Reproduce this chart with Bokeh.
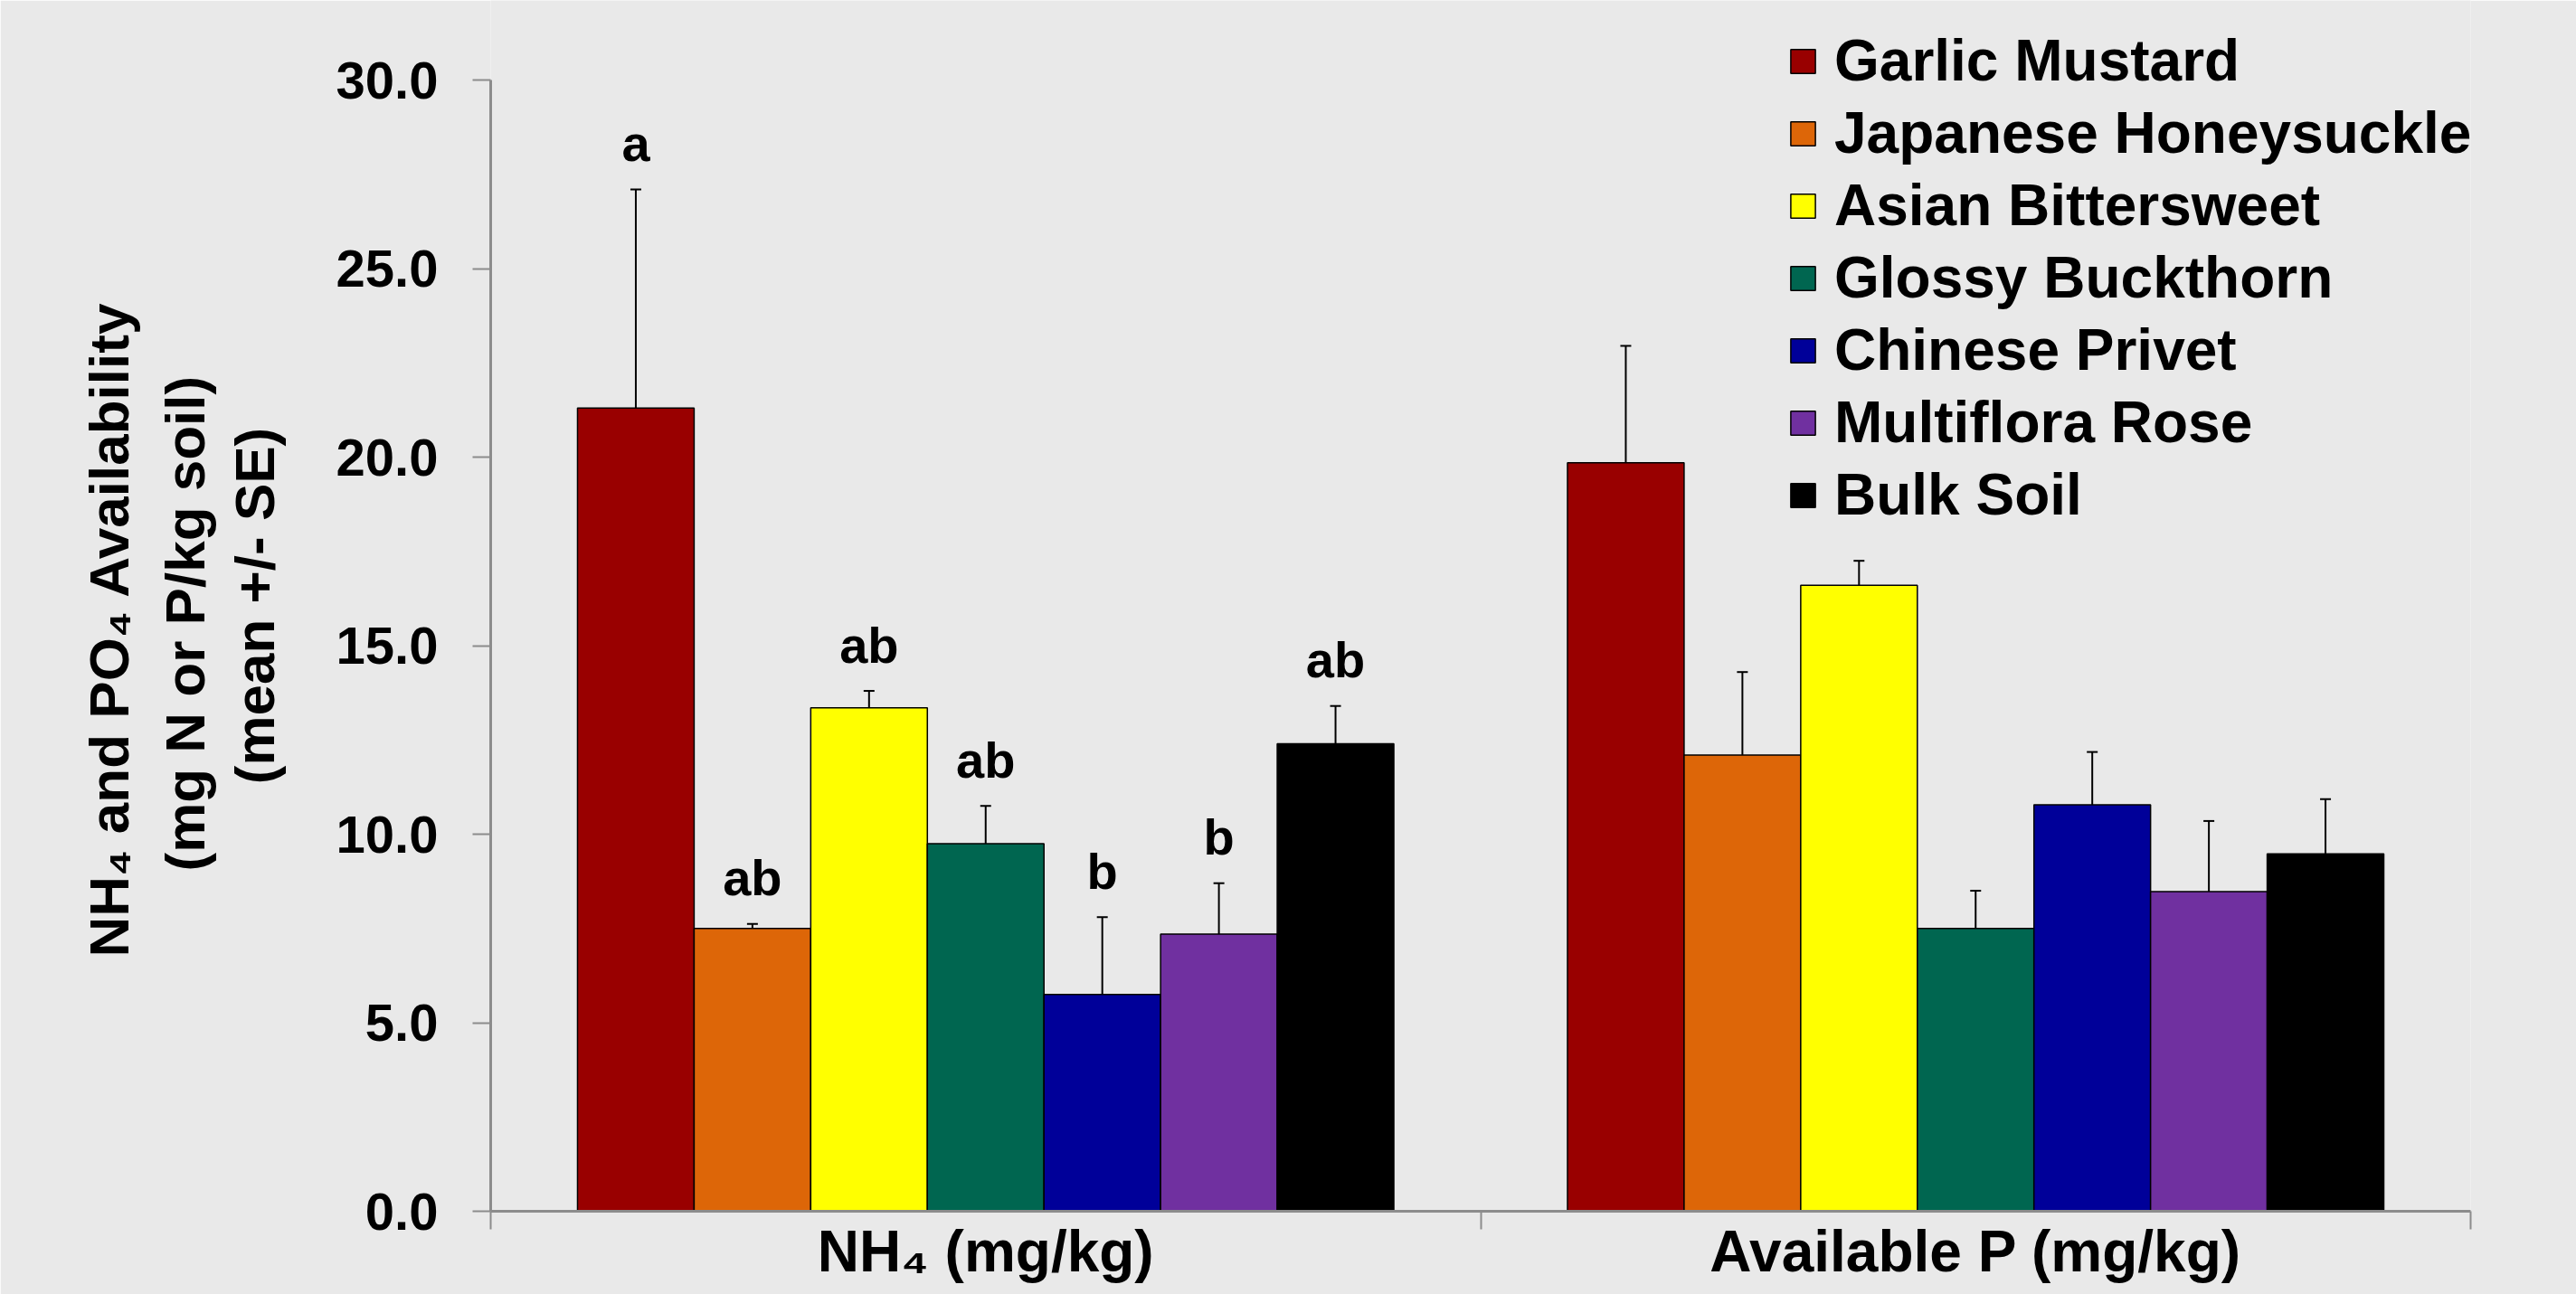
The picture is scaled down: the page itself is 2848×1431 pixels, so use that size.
import numpy as np
from bokeh.plotting import figure
from bokeh.models import (Range1d, FixedTicker, Legend, LegendItem, ColumnDataSource,
                          NumeralTickFormatter, Title)
from bokeh.embed import file_html
from bokeh.resources import INLINE
from bokeh.core.properties import value

# ---------------- data ----------------
categories = ["NH\u2084 (mg/kg)", "Available P (mg/kg)"]
species = ["Garlic Mustard", "Japanese Honeysuckle", "Asian Bittersweet",
           "Glossy Buckthorn", "Chinese Privet", "Multiflora Rose", "Bulk Soil"]
colors = ["#990000", "#DD6608", "#FFFF00", "#006650", "#000099", "#7030A0", "#000000"]
nh4_mean = [21.3, 7.5, 13.35, 9.75, 5.75, 7.35, 12.4]
nh4_se = [5.8, 0.12, 0.45, 1.0, 2.05, 1.35, 1.0]
p_mean = [19.85, 12.1, 16.6, 7.5, 10.78, 8.48, 9.48]
p_se = [3.1, 2.2, 0.65, 1.0, 1.4, 1.87, 1.45]
nh4_letters = ["a", "ab", "ab", "ab", "b", "b", "ab"]
y_ticks = [0, 5, 10, 15, 20, 25, 30]
y_title_lines = ["NH\u2084 and PO\u2084 Availability", "(mg N or P/kg soil)", "(mean +/- SE)"]

FONT = "Liberation Sans"
BG = "#e9e9e9"
AXIS_COL = "#8c8c8c"
bar_w = 0.1178
n = len(species)
cat_centers = [0.5, 1.5]

W, H = 2848, 1431
FRAME_L, FRAME_R, FRAME_B, Y30_PX = 542, 2731, 1339, 88
y_top = 30 * FRAME_B / (FRAME_B - Y30_PX)

p = figure(width=W, height=H, output_backend="svg", toolbar_location=None,
           x_range=Range1d(0, 2), y_range=Range1d(0, y_top),
           min_border_left=FRAME_L, min_border_right=W - FRAME_R, min_border_top=0,
           min_border_bottom=H - FRAME_B)
p.background_fill_color = BG
p.border_fill_color = BG
p.outline_line_color = None
p.xgrid.visible = False
p.ygrid.visible = False

renderers = []
for i, (sp, col) in enumerate(zip(species, colors)):
    xs = [c + (i - (n - 1) / 2) * bar_w for c in cat_centers]
    means = [nh4_mean[i], p_mean[i]]
    ses = [nh4_se[i], p_se[i]]
    tops = [m + s for m, s in zip(means, ses)]
    src = ColumnDataSource(dict(x=xs, top=means, etop=tops))
    r = p.vbar(x="x", top="top", bottom=0, width=bar_w, source=src,
               fill_color=col, line_color="black", line_width=1.5)
    renderers.append(r)
    p.segment(x0="x", y0="top", x1="x", y1="etop", source=src,
              line_color="black", line_width=2)
    p.scatter(x="x", y="etop", source=src, marker="dash", size=12,
              line_color="black", line_width=2)

# significance letters on NH4 group
lx = [cat_centers[0] + (i - (n - 1) / 2) * bar_w for i in range(n)]
ly = [m + s for m, s in zip(nh4_mean, nh4_se)]
p.text(x=lx, y=ly, text=nh4_letters, text_align="center", text_baseline="alphabetic",
       y_offset=-51, text_font=value(FONT), text_font_style="bold",
       text_font_size="56px", text_color="black")

# axes
xa = p.xaxis[0]
xa.ticker = FixedTicker(ticks=cat_centers, minor_ticks=[0, 1, 2])
xa.major_label_overrides = {c: lab for c, lab in zip(cat_centers, categories)}
xa.major_tick_out = 0
xa.major_tick_in = 0
xa.minor_tick_out = 20
xa.minor_tick_in = 0
xa.minor_tick_line_color = AXIS_COL
xa.minor_tick_line_width = 2
xa.axis_line_color = AXIS_COL
xa.axis_line_width = 3
xa.major_label_text_font = FONT
xa.major_label_text_font_style = "bold"
xa.major_label_text_font_size = "64px"
xa.major_label_text_color = "black"
xa.major_label_standoff = -12

ya = p.yaxis[0]
ya.bounds = (0, 30)
ya.ticker = FixedTicker(ticks=y_ticks, minor_ticks=[])
ya.formatter = NumeralTickFormatter(format="0.0")
ya.major_tick_out = 20
ya.major_tick_in = 0
ya.major_tick_line_color = AXIS_COL
ya.major_tick_line_width = 2
ya.axis_line_color = AXIS_COL
ya.axis_line_width = 3
ya.major_label_text_font = FONT
ya.major_label_text_font_style = "bold"
ya.major_label_text_font_size = "58px"
ya.major_label_text_color = "black"
ya.major_label_standoff = 38
# third (innermost) line of the y title
ya.axis_label = y_title_lines[2]
ya.axis_label_text_font = FONT
ya.axis_label_text_font_style = "bold"
ya.axis_label_text_font_size = "62px"
ya.axis_label_text_color = "black"
ya.axis_label_standoff = 53

# outer two lines of the y title, each start-offset from the frame bottom
for text, off, so in [(y_title_lines[1], 376, 8), (y_title_lines[0], 281, 18)]:
    t = Title(text=text, align="left", vertical_align="middle", offset=off, standoff=so,
              text_font=FONT, text_font_size="62px", text_font_style="bold",
              text_color="black")
    p.add_layout(t, "left")

legend = Legend(items=[LegendItem(label=sp, renderers=[r]) for sp, r in zip(species, renderers)],
                location=(1434, 752), orientation="vertical")
legend.padding = 0
legend.margin = 0
legend.spacing = 0
legend.label_height = 80
legend.glyph_height = 33
legend.glyph_width = 34
legend.label_standoff = 18
legend.label_text_font = FONT
legend.label_text_font_style = "bold"
legend.label_text_font_size = "64px"
legend.label_text_color = "black"
legend.border_line_alpha = 0
legend.background_fill_alpha = 0
p.add_layout(legend, "center")

open("out.html", "w").write(file_html(p, INLINE))
